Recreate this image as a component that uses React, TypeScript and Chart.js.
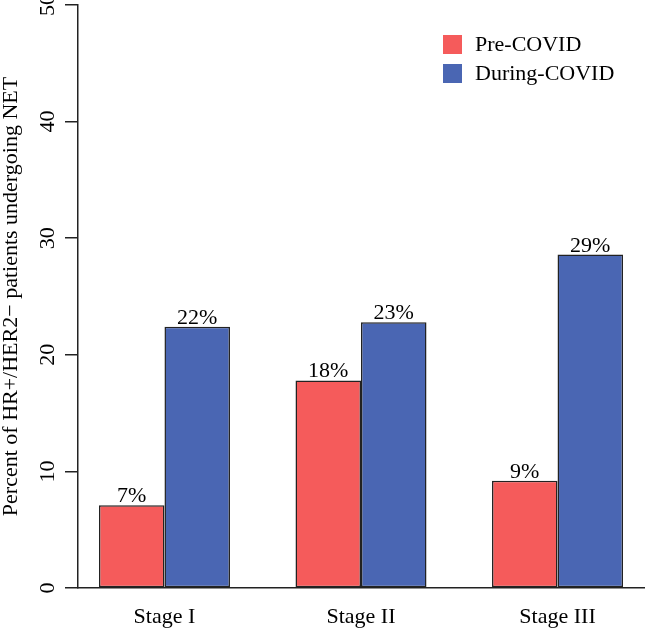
import React, { useEffect, useRef } from "react";
import { Chart, registerables } from "chart.js";

Chart.register(...registerables);

const categories = ["Stage I", "Stage II", "Stage III"];
const categoryPositions = [2, 5, 8];
const preCovid = [7.1, 17.8, 9.2];
const duringCovid = [22.4, 22.8, 28.6];
const seriesNames = ["Pre-COVID", "During-COVID"];
const yTicks = [0, 10, 20, 30, 40, 50];

const RED = "#F55B5B";
const BLUE = "#4A66B3";
const EDGE = "#222222";
const FONT = "'Liberation Serif', 'Times New Roman', serif";
const FS = 22;

const labelPlugin = {
  id: "extras",
  afterDraw(chart: any) {
    const ctx = chart.ctx;
    const area = chart.chartArea;
    ctx.save();
    ctx.fillStyle = "#000";
    ctx.font = `${FS}px ${FONT}`;
    // bar value labels
    chart.data.datasets.forEach((ds: any, di: number) => {
      const meta = chart.getDatasetMeta(di);
      meta.data.forEach((bar: any, i: number) => {
        const v = ds.data[i].y;
        ctx.textAlign = "center";
        ctx.textBaseline = "alphabetic";
        ctx.fillText(`${Math.round(v)}%`, bar.x, bar.y - 3);
      });
    });
    // rotated y tick labels
    const ys = chart.scales.y;
    yTicks.forEach((t) => {
      const py = ys.getPixelForValue(t);
      ctx.save();
      ctx.translate(area.left - 30, py);
      ctx.rotate(-Math.PI / 2);
      ctx.textAlign = "center";
      ctx.textBaseline = "middle";
      ctx.fillText(String(t), 0, 0);
      ctx.restore();
    });
    // legend
    const lx = area.left + 365;
    const ly = [35, 64];
    const colors = [RED, BLUE];
    seriesNames.forEach((name, i) => {
      ctx.fillStyle = colors[i];
      ctx.fillRect(lx, ly[i], 19, 19);
      ctx.fillStyle = "#000";
      ctx.textAlign = "left";
      ctx.textBaseline = "middle";
      ctx.fillText(name, lx + 32, ly[i] + 10);
    });
    ctx.restore();
  },
};

export default function App() {
  const ref = useRef<HTMLCanvasElement>(null);
  useEffect(() => {
    document.body.style.margin = "0";
    const canvas = ref.current!;
    const chart = new Chart(canvas, {
      type: "bar",
      data: {
        datasets: [
          {
            label: seriesNames[0],
            data: categoryPositions.map((x, i) => ({ x, y: preCovid[i] })),
            backgroundColor: RED,
            borderColor: EDGE,
            borderWidth: 1.5,
            borderSkipped: false,
          },
          {
            label: seriesNames[1],
            data: categoryPositions.map((x, i) => ({ x, y: duringCovid[i] })),
            backgroundColor: BLUE,
            borderColor: EDGE,
            borderWidth: 1.5,
            borderSkipped: false,
          },
        ],
      },
      options: {
        responsive: false,
        animation: false,
        events: [],
        layout: { padding: { top: 5, right: 2, left: 0, bottom: 0 } },
        datasets: { bar: { categoryPercentage: 2 / 3, barPercentage: 1 } },
        plugins: { legend: { display: false }, tooltip: { enabled: false } },
        scales: {
          x: {
            type: "linear",
            min: 0.68,
            max: 9.32,
            offset: false,
            grid: { display: false, drawTicks: false },
            border: { display: true, color: EDGE, width: 1.5 },
            afterBuildTicks: (scale: any) => {
              scale.ticks = categoryPositions.map((v) => ({ value: v }));
            },
            ticks: {
              color: "#000",
              font: { family: FONT, size: FS },
              padding: 16,
              maxRotation: 0,
              autoSkip: false,
              callback: (v: any) => {
                const idx = categoryPositions.indexOf(Number(v));
                return idx >= 0 ? categories[idx] : "";
              },
            },
            afterFit: (scale: any) => {
              scale.height = 42;
            },
          },
          y: {
            min: 0,
            max: 50,
            afterBuildTicks: (scale: any) => {
              scale.ticks = yTicks.map((v) => ({ value: v }));
            },
            ticks: { display: false },
            grid: {
              display: true,
              drawOnChartArea: false,
              drawTicks: true,
              tickLength: 13,
              color: EDGE,
              lineWidth: 1.5,
            },
            border: { display: true, color: EDGE, width: 1.5 },
            title: {
              display: true,
              text: "Percent of HR+/HER2\u2212 patients undergoing NET",
              color: "#000",
              font: { family: FONT, size: FS, lineHeight: 1 },
              padding: 0,
            },
            afterFit: (scale: any) => {
              scale.width = 78;
            },
          },
        },
      },
      plugins: [labelPlugin],
    });
    return () => chart.destroy();
  }, []);
  return (
    <div style={{ position: "absolute", left: 0, top: 0, width: 646, height: 630 }}>
      <canvas ref={ref} width={646} height={630} style={{ display: "block", width: 646, height: 630 }} />
    </div>
  );
}
